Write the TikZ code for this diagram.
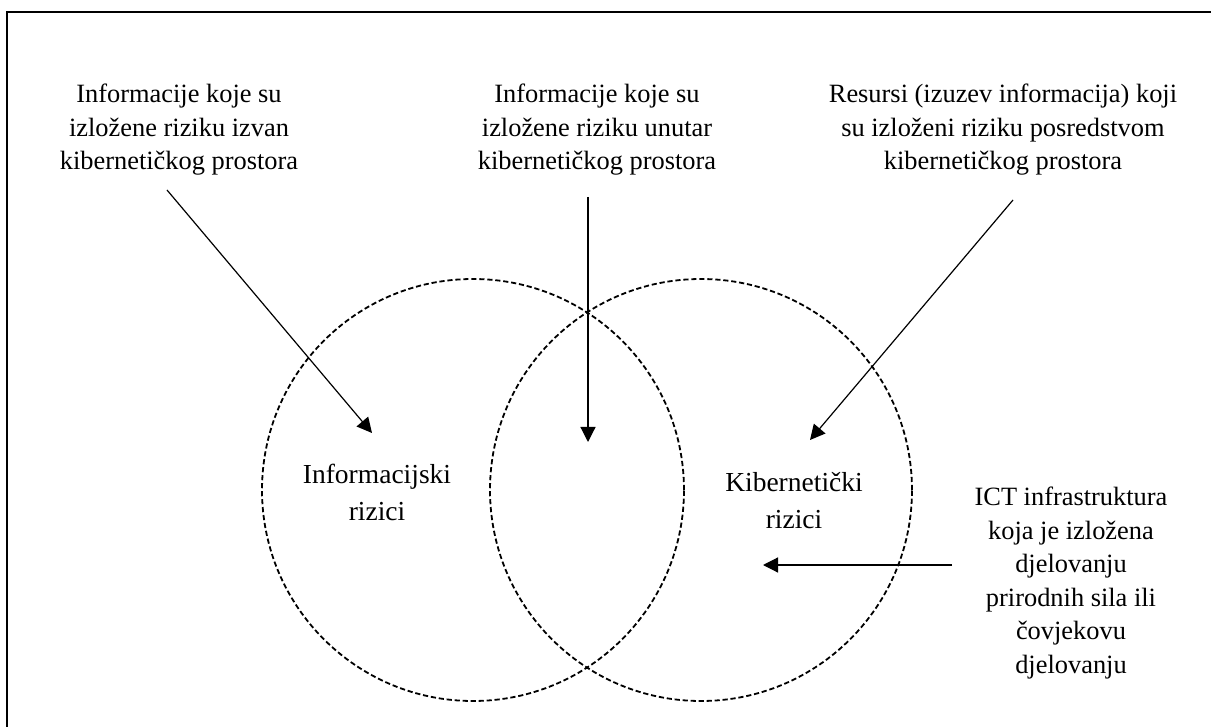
\documentclass[tikz,border=0pt]{standalone}
\usepackage{fontspec}
\setmainfont{Liberation Serif}
\usepackage{tikz}
\usetikzlibrary{arrows.meta,shapes}

\tikzset{
    tekst/.style={align=center, inner sep=0pt, font=\fontsize{13.2}{16.75}\selectfont},
    oznaka/.style={align=center, inner sep=0pt, font=\fontsize{13.75}{18.5}\selectfont},
    skup/.style={circle, draw, line width=0.9pt, dash pattern=on 2.6pt off 1.4pt,
        minimum size=211pt, inner sep=0pt},
    strelica/.style={-{Triangle[length=7.5pt,width=7.5pt]}, line width=0.6pt}
}

\begin{document}
\begin{tikzpicture}[x=0.5pt, y=-0.5pt]
    \useasboundingbox (0,0) rectangle (1211,727);
    \draw[line width=1pt] (7,727) -- (7,12) -- (1211,12);

    \node[skup] (c1) at (473,490) {};
    \node[skup] (c2) at (701,490) {};

    \node[oznaka] (l1) at (377,492) {Informacijski\\rizici};
    \node[oznaka] (l2) at (794,501) {Kibernetički\\rizici};

    \node[tekst] (t1) at (179,130) {Informacije koje su\\izložene riziku izvan\\kibernetičkog prostora};
    \node[tekst] (t2) at (597,130) {Informacije koje su\\izložene riziku unutar\\kibernetičkog prostora};
    \node[tekst] (t3) at (1003,130) {Resursi (izuzev informacija) koji\\su izloženi riziku posredstvom\\kibernetičkog prostora};
    \node[tekst] (t4) at (1071,583) {ICT infrastruktura\\koja je izložena\\djelovanju\\prirodnih sila ili\\čovjekovu\\djelovanju};

    \coordinate (a1) at (167,190);
    \coordinate (b1) at (372,433);
    \coordinate (a2) at (588,197);
    \coordinate (b2) at (588,442);
    \coordinate (a3) at (1013,200);
    \coordinate (b3) at (810,440);
    \coordinate (a4) at (952,565);
    \coordinate (b4) at (763,565);

    \draw[strelica] (a1) -- (b1);
    \draw[strelica] (a2) -- (b2);
    \draw[strelica] (a3) -- (b3);
    \draw[strelica] (a4) -- (b4);
\end{tikzpicture}
\end{document}
